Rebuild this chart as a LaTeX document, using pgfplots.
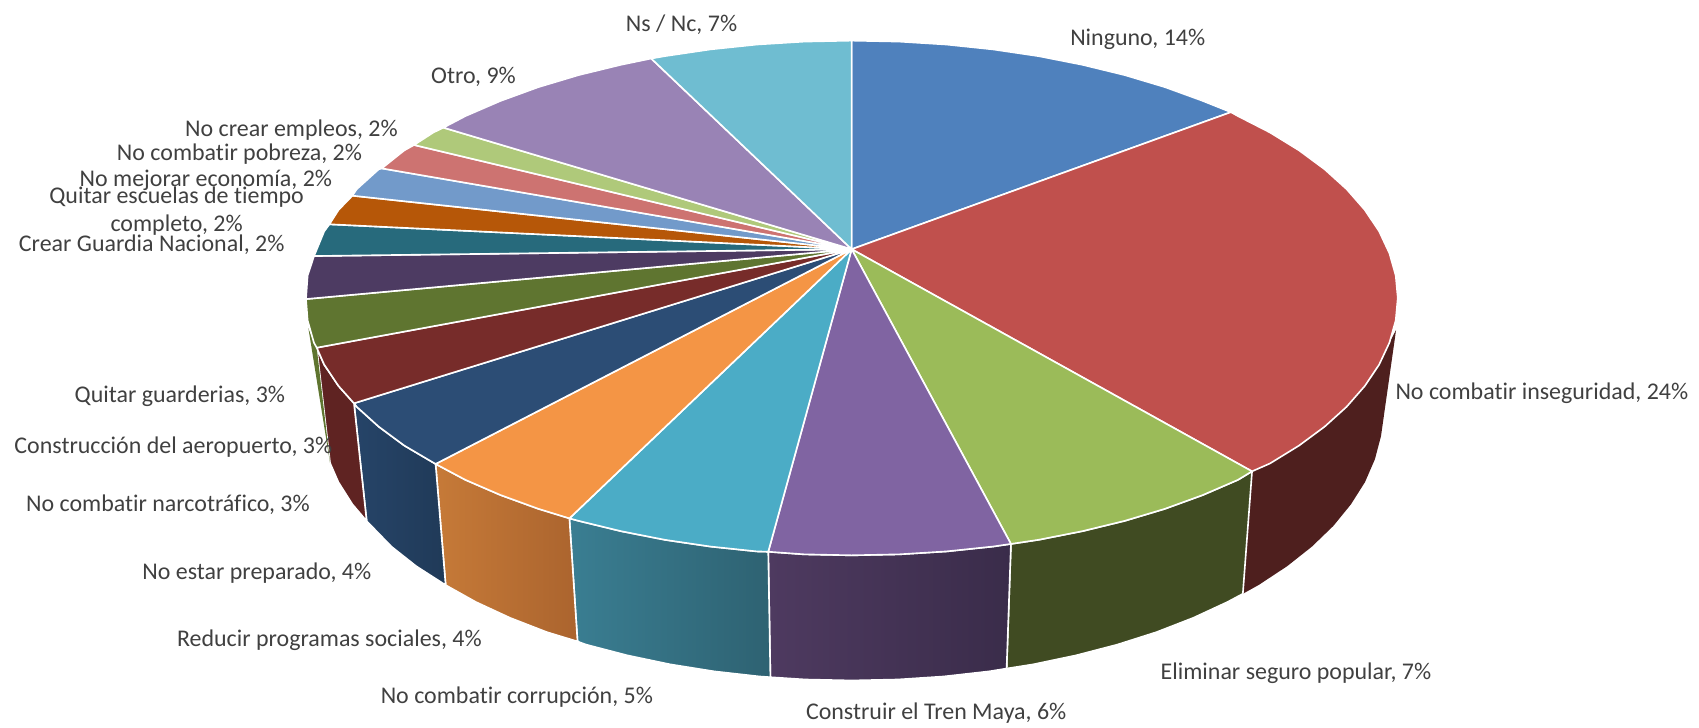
\documentclass[border=0pt]{standalone}
\usepackage{pgfplots}
\pgfplotsset{compat=1.18}
\usepackage{fontspec}
\setmainfont[Ligatures=NoCommon]{Carlito}
\definecolor{lbl}{HTML}{404040}
\definecolor{cblue}{HTML}{4F81BD}
\definecolor{cred}{HTML}{C0504D}
\definecolor{cgreen}{HTML}{9BBB59}
\definecolor{cpurple}{HTML}{8064A2}
\definecolor{cteal}{HTML}{4BACC6}
\definecolor{corange}{HTML}{F49545}
\definecolor{cnavy}{HTML}{2C4D75}
\definecolor{cdkred}{HTML}{772C2A}
\definecolor{colive}{HTML}{5F7530}
\definecolor{cdkpurple}{HTML}{4D3B62}
\definecolor{cdkteal}{HTML}{276A7C}
\definecolor{cbrown}{HTML}{B65708}
\definecolor{cltblue}{HTML}{729ACA}
\definecolor{csalmon}{HTML}{CD7371}
\definecolor{cltgreen}{HTML}{AFC97A}
\definecolor{cltpurple}{HTML}{9983B5}
\definecolor{ccyan}{HTML}{6FBDD1}
\definecolor{wred}{HTML}{4E1F1E}
\definecolor{wgreen}{HTML}{404B22}
\definecolor{wpurpleA}{HTML}{4E3A60}
\definecolor{wpurpleB}{HTML}{3A2C4A}
\definecolor{wtealA}{HTML}{3A7E92}
\definecolor{wtealB}{HTML}{2E6272}
\definecolor{worangeA}{HTML}{C67A38}
\definecolor{worangeB}{HTML}{AB642E}
\definecolor{wnavyA}{HTML}{264468}
\definecolor{wnavyB}{HTML}{203A58}
\definecolor{wdkred}{HTML}{5F2322}
\tikzset{
  wall/.style={draw=white, line width=1.5pt},
  top/.style={draw=white, line width=1.5pt},
  lab/.style={text=lbl, font=\fontsize{22.1}{26}\selectfont, inner sep=0pt, anchor=center, yshift=-2pt},
}
\begin{document}
\begin{tikzpicture}
\begin{axis}[
  scale only axis, width=1568pt, height=671pt,
  xmin=0, xmax=1568, ymin=0, ymax=671, y dir=reverse,
  hide axis, clip=false, no markers,
  every axis plot/.append style={forget plot, line join=round},
]
\path (axis cs:0,0) rectangle (axis cs:1568,671);
% side walls
\addplot[draw=none, fill=wred] coordinates {(1288.4,304.6)(1282.3,316.2)(1272.8,336.5)(1259.6,356.2)(1242.8,375.4)(1222.5,393.75)(1198.9,411.2)(1172.1,427.7)(1155.5,435)(1147,548)(1161.7,539.8)(1187.8,522.6)(1210.7,504.5)(1230.5,485.4)(1246.8,465.4)(1259.7,445)(1268.9,423.8)(1274.5,402.5)} --cycle;
\addplot[wall, fill=wgreen] coordinates {(1155.5,435)(1142.4,442.9)(1110,456.9)(1075.1,469.6)(1038,480.7)(999,490.2)(958.4,498.2)(933,502)(929,617)(953.7,613.1)(993.2,604.8)(1031.2,594.9)(1067.3,583.4)(1101.3,570.2)(1132.8,555.6)(1147,548)} --cycle;
\addplot[wall, left color=wpurpleA, right color=wpurpleB] coordinates {(933,502)(916.4,504.4)(873.5,508.9)(829.9,511.6)(786,512.5)(742.1,511.6)(709,509.2)(711,625)(743.3,627.1)(786,628)(828.7,627.1)(871.1,624.3)(912.9,619.6)(929,617)} --cycle;
\addplot[wall, left color=wtealA, right color=wtealB] coordinates {(709,509.2)(698.5,508.9)(655.6,504.4)(613.6,498.2)(573,490.2)(534,480.7)(525.5,478.4)(533,592)(540.8,594.9)(578.8,604.8)(618.3,613.1)(659.1,619.6)(700.9,624.3)(711,625)} --cycle;
\addplot[wall, left color=worangeA, right color=worangeB] coordinates {(525.5,478.4)(496.9,469.6)(462,456.9)(429.6,442.9)(402,428.2)(411.3,540)(439.2,555.6)(470.7,570.2)(504.7,583.4)(533,592)} --cycle;
\addplot[wall, left color=wnavyA, right color=wnavyB] coordinates {(402,428.2)(373.1,411.2)(349.5,393.75)(329.2,375.4)(326.7,372.2)(338.4,480.9)(361.3,504.5)(384.2,522.6)(411.3,540)} --cycle;
\addplot[wall, fill=wdkred] coordinates {(326.7,372.2)(312.4,356.2)(299.2,336.5)(292.3,320.9)(304.6,427.3)(312.3,445)(325.2,465.4)(338.4,480.9)} --cycle;
\addplot[draw=none, fill=colive] coordinates {(292.3,320.9)(289.7,316.2)(284.6,302.8)(303.6,421)(304.6,427.3)} --cycle;
% top face
\addplot[top, fill=cblue] coordinates {(786,230)(786,37.5)(829.9,38.4)(873.5,41.1)(916.4,45.6)(958.4,51.8)(999,59.8)(1038,69.3)(1075.1,80.4)(1110,93.1)(1136,103.5)} --cycle;
\addplot[top, fill=cred] coordinates {(786,230)(1136,103.5)(1142.4,107.1)(1172.1,122.3)(1198.9,138.8)(1222.5,156.25)(1242.8,174.6)(1259.6,193.8)(1272.8,213.5)(1282.3,233.8)(1288.1,254.3)(1290,275)(1288.1,295.7)(1282.3,316.2)(1272.8,336.5)(1259.6,356.2)(1242.8,375.4)(1222.5,393.75)(1198.9,411.2)(1172.1,427.7)(1155.5,435)} --cycle;
\addplot[top, fill=cgreen] coordinates {(786,230)(1155.5,435)(1142.4,442.9)(1110,456.9)(1075.1,469.6)(1038,480.7)(999,490.2)(958.4,498.2)(933,502)} --cycle;
\addplot[top, fill=cpurple] coordinates {(786,230)(933,502)(916.4,504.4)(873.5,508.9)(829.9,511.6)(786,512.5)(742.1,511.6)(709,509.2)} --cycle;
\addplot[top, fill=cteal] coordinates {(786,230)(709,509.2)(698.5,508.9)(655.6,504.4)(613.6,498.2)(573,490.2)(534,480.7)(525.5,478.4)} --cycle;
\addplot[top, fill=corange] coordinates {(786,230)(525.5,478.4)(496.9,469.6)(462,456.9)(429.6,442.9)(402,428.2)} --cycle;
\addplot[top, fill=cnavy] coordinates {(786,230)(402,428.2)(373.1,411.2)(349.5,393.75)(329.2,375.4)(326.7,372.2)} --cycle;
\addplot[top, fill=cdkred] coordinates {(786,230)(326.7,372.2)(312.4,356.2)(299.2,336.5)(292.3,320.9)} --cycle;
\addplot[top, fill=colive] coordinates {(786,230)(292.3,320.9)(289.7,316.2)(283.9,295.7)(282.4,276)} --cycle;
\addplot[top, fill=cdkpurple] coordinates {(786,230)(282.4,276)(283.9,254.3)(289.8,236.3)} --cycle;
\addplot[top, fill=cdkteal] coordinates {(786,230)(289.8,236.3)(299.2,213.5)(304,207)} --cycle;
\addplot[top, fill=cbrown] coordinates {(786,230)(304,207)(312.4,193.8)(325.2,180.6)} --cycle;
\addplot[top, fill=cltblue] coordinates {(786,230)(325.2,180.6)(329.2,174.6)(349.5,156.25)(352.3,155.4)} --cycle;
\addplot[top, fill=csalmon] coordinates {(786,230)(352.3,155.4)(373.1,138.8)(382.1,133.8)} --cycle;
\addplot[top, fill=cltgreen] coordinates {(786,230)(382.1,133.8)(399.9,122.3)(409.2,117.8)} --cycle;
\addplot[top, fill=cltpurple] coordinates {(786,230)(409.2,117.8)(429.6,107.1)(462,93.1)(496.9,80.4)(534,69.3)(573,59.8)(601,54)} --cycle;
\addplot[top, fill=ccyan] coordinates {(786,230)(601,54)(613.6,51.8)(655.6,45.6)(698.5,41.1)(742.1,38.4)(786,37.5)} --cycle;
% labels
\node[lab] at (axis cs:1050,34) {Ninguno, 14\%};
\node[lab] at (axis cs:1423,361) {No combatir inseguridad, 24\%};
\node[lab] at (axis cs:1196,619) {Eliminar seguro popular, 7\%};
\node[lab] at (axis cs:864,656) {Construir el Tren Maya, 6\%};
\node[lab] at (axis cs:477,641) {No combatir corrupción, 5\%};
\node[lab] at (axis cs:304,589) {Reducir programas sociales, 4\%};
\node[lab] at (axis cs:237,527) {No estar preparado, 4\%};
\node[lab] at (axis cs:155,464) {No combatir narcotráfico, 3\%};
\node[lab] at (axis cs:160,411) {Construcción del aeropuerto, 3\%};
\node[lab] at (axis cs:166,364) {Quitar guarderias, 3\%};
\node[lab] at (axis cs:140,224) {Crear Guardia Nacional, 2\%};
\node[lab] at (axis cs:163,180) {Quitar escuelas de tiempo};
\node[lab] at (axis cs:163,206) {completo, 2\%};
\node[lab] at (axis cs:190,164) {No mejorar economía, 2\%};
\node[lab] at (axis cs:221,140) {No combatir pobreza, 2\%};
\node[lab] at (axis cs:269,118) {No crear empleos, 2\%};
\node[lab] at (axis cs:437,69) {Otro, 9\%};
\node[lab] at (axis cs:629,21) {Ns / Nc, 7\%};
\end{axis}
\end{tikzpicture}
\end{document}
